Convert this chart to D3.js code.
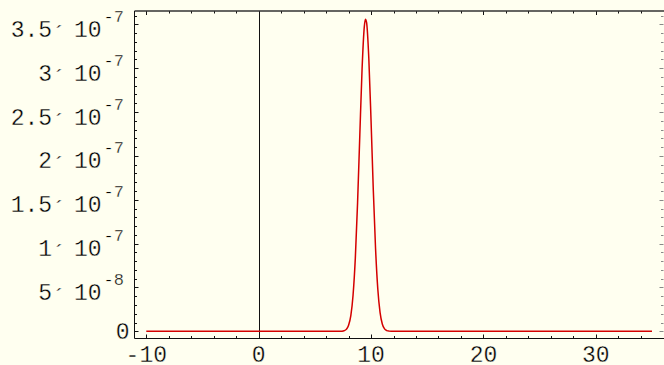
<!DOCTYPE html>
<html>
<head>
<meta charset="utf-8">
<script src="https://d3js.org/d3.v7.min.js"></script>
<style>
  body { margin: 0; background: #fffff0; }
  svg { display: block; }
  text { font-family: "Liberation Mono", "DejaVu Sans Mono", monospace; fill: #000;
         stroke: #fffff0; stroke-width: 0.35px; }
  .tick-lbl { font-size: 23px; }
  .exp-lbl { font-size: 17px; }
</style>
</head>
<body>
<script>
  // curve samples (y in units of 1e-7)
  var curveX = [-10, 7.2, 7.4, 7.6, 7.8, 8.0, 8.2, 8.4, 8.6, 8.8, 9.0, 9.2, 9.4, 9.5, 9.6,
                9.8, 10.0, 10.2, 10.4, 10.6, 10.8, 11.0, 11.2, 11.4, 11.6, 11.8, 35];
  var curveY = [0, 0.0003, 0.0016, 0.0064, 0.022, 0.068, 0.179, 0.414, 0.834, 1.464, 2.239, 2.987, 3.473, 3.558, 3.521,
                3.112, 2.398, 1.611, 0.944, 0.482, 0.215, 0.083, 0.028, 0.008, 0.002, 0.0004, 0];

  var xTickVals = [-10, 0, 10, 20, 30];
  var yTickVals = [0, 0.5e-7, 1e-7, 1.5e-7, 2e-7, 2.5e-7, 3e-7, 3.5e-7];
  var yMantissa = ["0", "5", "1", "1.5", "2", "2.5", "3", "3.5"];
  var yExp = [null, "-8", "-7", "-7", "-7", "-7", "-7", "-7"];

  var W = 664, H = 365;
  var frame = {left: 134.5, right: 663.5, top: 11, bottom: 338.5};

  var svg = d3.select("body").append("svg")
    .attr("width", W)
    .attr("height", H);

  svg.append("rect").attr("width", W).attr("height", H).attr("fill", "#fffff0");

  var x = d3.scaleLinear().domain([-10, 35]).range([146.3, 652]);
  var y = d3.scaleLinear().domain([0, 3.5e-7]).range([331.3, 24.3]);

  // minor / major tick positions
  var xMinor = d3.range(-10, 36, 2);
  var yMinor = d3.range(0, 37).map(function(i) { return i * 1e-8; });

  var ticks = svg.append("g").attr("stroke", "#111").attr("stroke-width", 1);

  xMinor.forEach(function(v) {
    var major = v % 10 === 0;
    var len = major ? 4 : 2.5;
    var px = Math.round(x(v)) + 0.5;
    ticks.append("line").attr("x1", px).attr("x2", px)
      .attr("y1", frame.bottom).attr("y2", frame.bottom - len);
    ticks.append("line").attr("x1", px).attr("x2", px)
      .attr("y1", frame.top).attr("y2", frame.top + len);
  });

  yMinor.forEach(function(v, i) {
    var major = i % 5 === 0;
    var len = major ? 4 : 2.5;
    var py = Math.round(y(v)) + 0.5;
    ticks.append("line").attr("x1", frame.left).attr("x2", frame.left + len)
      .attr("y1", py).attr("y2", py);
    ticks.append("line").attr("x1", frame.right).attr("x2", frame.right - len)
      .attr("y1", py).attr("y2", py).attr("stroke", "#888");
  });

  // vertical axis at x = 0
  svg.append("line")
    .attr("x1", Math.round(x(0)) + 0.5).attr("x2", Math.round(x(0)) + 0.5)
    .attr("y1", frame.top).attr("y2", frame.bottom)
    .attr("stroke", "#111").attr("stroke-width", 1);

  // curve
  var pts = curveX.map(function(v, i) { return [v, curveY[i] * 1e-7]; });
  svg.append("path")
    .datum(pts)
    .attr("fill", "none")
    .attr("stroke", "#d40000")
    .attr("stroke-width", 1.5)
    .attr("d", d3.line()
      .x(function(d) { return x(d[0]); })
      .y(function(d) { return y(d[1]); })
      .curve(d3.curveMonotoneX));

  // frame
  svg.append("line").attr("x1", frame.left).attr("x2", W).attr("y1", frame.top).attr("y2", frame.top)
    .attr("stroke", "#333").attr("stroke-width", 1.3);
  svg.append("line").attr("x1", frame.left).attr("x2", W).attr("y1", frame.bottom).attr("y2", frame.bottom)
    .attr("stroke", "#111").attr("stroke-width", 1);
  svg.append("line").attr("x1", frame.left).attr("x2", frame.left).attr("y1", frame.top).attr("y2", frame.bottom)
    .attr("stroke", "#111").attr("stroke-width", 1);

  // x labels
  svg.selectAll(".xl").data(xTickVals).enter().append("text")
    .attr("class", "tick-lbl")
    .attr("x", function(d) { return x(d); })
    .attr("y", 361.5)
    .attr("text-anchor", "middle")
    .text(function(d) { return d; });

  // y labels: mantissa ´ 10 with raised exponent
  yTickVals.forEach(function(v, i) {
    var py = y(v);
    if (yExp[i] === null) {
      svg.append("text").attr("class", "tick-lbl")
        .attr("x", 129.5).attr("y", py + 7.5)
        .attr("text-anchor", "end").text(yMantissa[i]);
      return;
    }
    var t = svg.append("text").attr("class", "tick-lbl")
      .attr("x", 101.5).attr("y", py + 12.5)
      .attr("text-anchor", "end");
    t.append("tspan").text(yMantissa[i]);
    t.append("tspan").attr("dy", 5).text("\u00b4");
    t.append("tspan").attr("dx", 8).attr("dy", -5).text("10");

    svg.append("text").attr("class", "exp-lbl")
      .attr("x", 103.5).attr("y", py - 2.5)
      .attr("text-anchor", "start").text(yExp[i]);
  });
</script>
</body>
</html>
